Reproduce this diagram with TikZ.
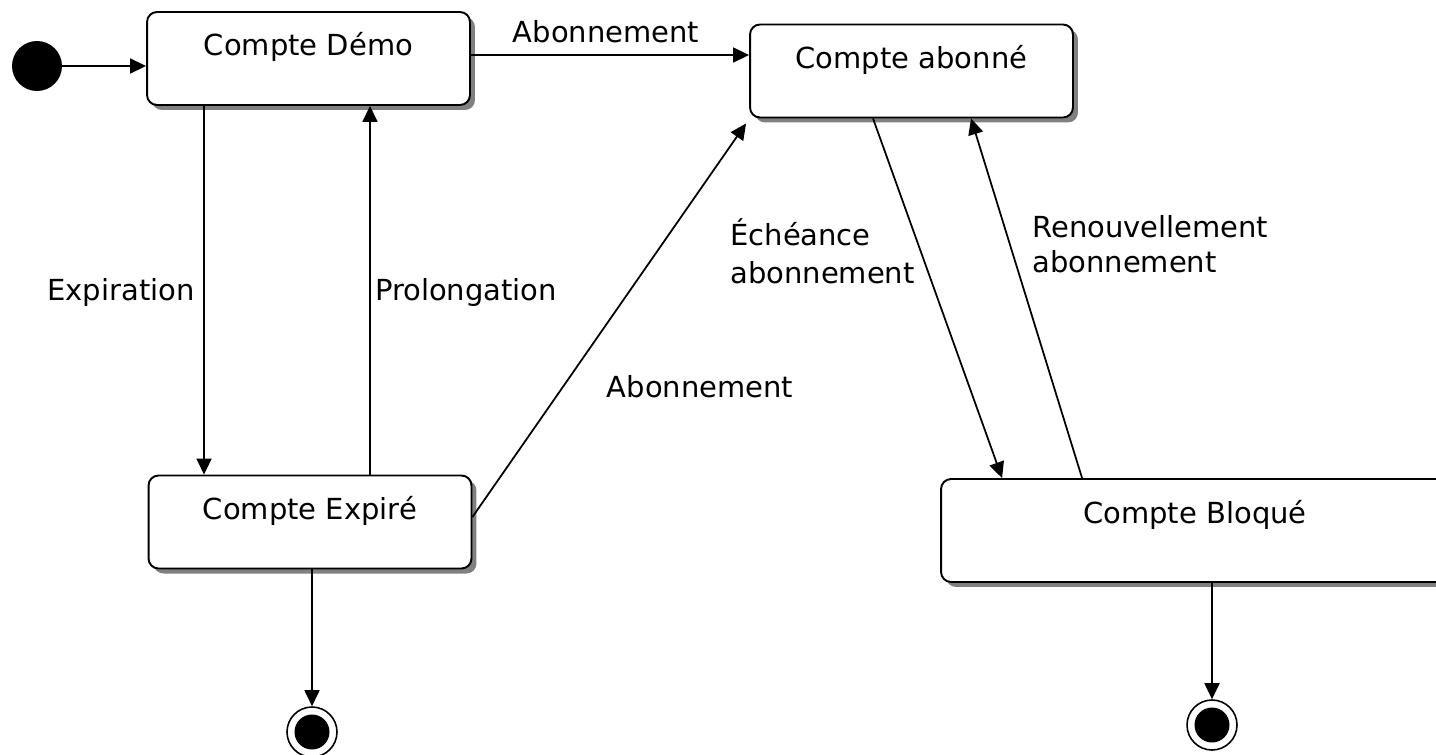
\documentclass[tikz,border=0pt]{standalone}
\usepackage{fontspec}
\setmainfont{DejaVu Sans}
\usetikzlibrary{arrows.meta,shadows}
\tikzset{
	etat/.style={draw, fill=white, rounded corners=0.2cm, line width=1.1pt, inner sep=0pt,
		minimum width=6.46cm, text height=0.87cm, text depth=0.99cm,
		font=\fontsize{16.5pt}{0.76cm}\selectfont,
		drop shadow={shadow xshift=0.1cm, shadow yshift=-0.1cm, fill=black!50, opacity=1}},
	debut/.style={circle, fill=black, minimum size=1cm, inner sep=0pt},
	fin/.style={circle, draw, line width=0.9pt, minimum size=1cm, inner sep=0pt,
		path picture={\fill[black] (path picture bounding box.center) circle (0.35cm);}},
	fleche/.style={-{Triangle[length=0.32cm,width=0.3cm]}, line width=1pt},
	etiq/.style={inner sep=0pt, font=\fontsize{16.5pt}{0.76cm}\selectfont}
}
\begin{document}
\begin{tikzpicture}[x=0.02cm,y=-0.02cm]
	\clip (0,0) rectangle (1436,754);
	% etats
	\node[debut] (init) at (37,66) {};
	\node[etat] (demo) at (308.5,58.5) {Compte Démo};
	\node[etat] (abonne) at (911.5,71) {Compte abonné};
	\node[etat] (expire) at (310,522) {Compte Expiré};
	\node[etat, minimum width=10.16cm, text height=0.88cm, text depth=1.18cm] (bloque) at (1195,530.5) {Compte Bloqué};
	\node[fin] (fin1) at (312,732) {};
	\node[fin] (fin2) at (1212,725) {};
	% transitions
	\draw[fleche] (init) -- (init -| demo.west);
	\draw[fleche] ([yshift=0.07cm]demo.east) -- ([yshift=0.07cm]demo.east -| abonne.west);
	\draw[fleche] ([xshift=-2.09cm]demo.south) -- ([xshift=-2.09cm]demo.south |- expire.north);
	\draw[fleche] ([xshift=1.23cm]demo.south |- expire.north) -- ([xshift=1.23cm]demo.south);
	\draw[fleche] ([yshift=0.1cm]expire.east) -- ([xshift=-0.06cm,yshift=-0.1cm]abonne.south west);
	\draw[fleche] ([xshift=-0.77cm]abonne.south) -- ([xshift=1.24cm]bloque.north west);
	\draw[fleche] ([xshift=2.84cm]bloque.north west) -- ([xshift=1.19cm]abonne.south);
	\draw[fleche] (expire.south -| fin1) -- (fin1.north);
	\draw[fleche] (bloque.south -| fin2) -- (fin2.north);
	% etiquettes
	\node[etiq] (l_abon1) at (606,32) {Abonnement};
	\node[etiq] (l_expir) at (121,292) {Expiration};
	\node[etiq] (l_prolong) at (466,292) {Prolongation};
	\node[etiq] (l_abon2) at (700,387) {Abonnement};
	\node[etiq, align=left, anchor=base west] (l_echeance) at (730,283) {Échéance\\abonnement};
	\node[etiq, align=left, anchor=base west] (l_renouv) at (1032,272) {Renouvellement\\[-0.06cm]abonnement};
\end{tikzpicture}
\end{document}
